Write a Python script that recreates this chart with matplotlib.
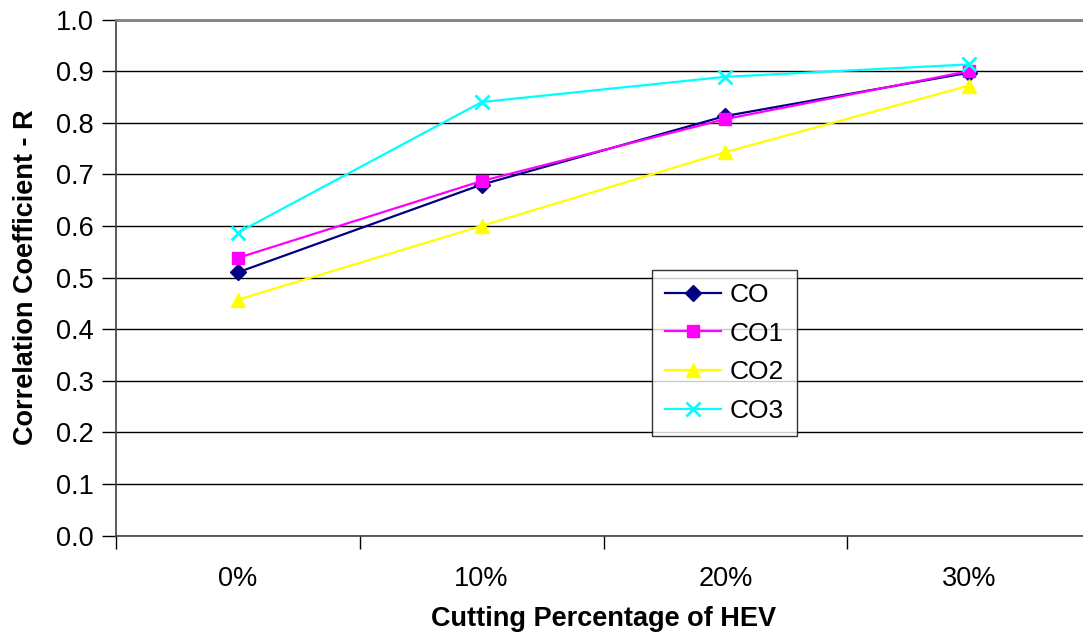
import matplotlib
matplotlib.use("Agg")
import matplotlib.pyplot as plt
import numpy as np

categories = ["0%", "10%", "20%", "30%"]
co = [0.510, 0.680, 0.813, 0.897]
co1 = [0.538, 0.687, 0.807, 0.900]
co2 = [0.457, 0.600, 0.743, 0.872]
co3 = [0.587, 0.840, 0.889, 0.913]

plt.rcParams['font.family'] = ['Liberation Sans', 'DejaVu Sans']

fig = plt.figure(figsize=(10.83, 6.37), dpi=100)
W, H = 1083.0, 637.0
left, right, top, bottom = 116, 1091, 19.5, 535.5
ax = fig.add_axes([left / W, 1 - bottom / H, (right - left) / W, (bottom - top) / H])

x = np.arange(len(categories))
series = [
    ("CO", co, "#000080", "D", 8),
    ("CO1", co1, "#FF00FF", "s", 9),
    ("CO2", co2, "#FFFF00", "^", 10),
    ("CO3", co3, "#00FFFF", "x", 10),
]
for name, vals, col, mk, ms in series:
    ax.plot(x, vals, color=col, lw=1.6, marker=mk, markersize=ms,
            markeredgewidth=2 if mk == "x" else 1, markeredgecolor=col,
            markerfacecolor=col, label=name, zorder=3)

ax.set_xlim(-0.5, 3.5)
ax.set_ylim(0, 1.0)
ax.set_yticks(np.arange(0, 1.01, 0.1))
ax.set_yticklabels(["%.1f" % v for v in np.arange(0, 1.01, 0.1)], fontsize=19.5)
ax.yaxis.grid(True, color="black", lw=1)
ax.set_axisbelow(True)

ax.set_xticks(x)
ax.set_xticklabels(categories, fontsize=19.5)
ax.tick_params(axis="x", length=0, pad=22)
ax.set_xticks(np.arange(-0.5, 4.0, 1.0), minor=True)
ax.tick_params(axis="x", which="minor", length=9, width=1, color="black", direction="out")
ax.tick_params(axis="y", length=10, width=1, color="black", direction="out", pad=6)

ax.spines["right"].set_visible(False)
ax.spines["top"].set_color("#808080")
ax.spines["top"].set_linewidth(2)
ax.spines["left"].set_color("#404040")
ax.spines["left"].set_linewidth(1.2)
ax.spines["bottom"].set_color("#404040")
ax.spines["bottom"].set_linewidth(1.2)

ax.set_xlabel("Cutting Percentage of HEV", fontsize=19.5, fontweight="bold", labelpad=10)
ax.set_ylabel("Correlation Coefficient - R", fontsize=19.5, fontweight="bold", labelpad=12)

leg = ax.legend(loc="upper left", bbox_to_anchor=((652 - left) / (right - left), 1 - (270 - top) / (bottom - top)),
                fontsize=19, frameon=True, fancybox=False, edgecolor="black",
                borderpad=0.5, labelspacing=0.55, handlelength=2.1, handletextpad=0.35,
                borderaxespad=0)
leg.get_frame().set_linewidth(1)

fig.savefig("out.png", dpi=100)
